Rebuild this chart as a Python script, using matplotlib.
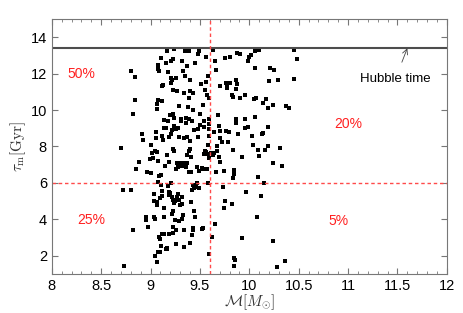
import numpy as np
import matplotlib
matplotlib.use('Agg')
import matplotlib.pyplot as plt
from matplotlib.ticker import MultipleLocator

plt.rcParams['font.family'] = ['Liberation Sans', 'DejaVu Sans']
plt.rcParams['mathtext.fontset'] = 'cm'

# galaxy mass (log M_sun) and formation time tau_m (Gyr)
mass = [
    8.70, 8.72, 8.80, 8.82, 8.73, 8.80, 8.84, 8.84, 8.82, 8.85, 8.88, 8.91, 8.92,
    8.95, 8.95, 8.97, 8.96, 9.00, 8.99, 9.00, 9.01, 9.02, 9.03, 9.03, 9.04, 9.06,
    9.03, 9.04,
    9.07, 9.08, 9.09, 9.11, 9.06, 9.06, 9.07, 9.12, 9.05, 9.05, 9.04, 9.06, 9.08,
    9.08, 9.09, 9.11, 9.11, 9.12, 9.10, 9.12, 9.06, 9.06, 9.14, 9.14, 9.09, 9.10,
    9.11, 9.08, 9.10, 9.12, 9.14, 9.16, 9.17, 9.13, 9.12, 9.14, 9.14, 9.13, 9.12,
    9.16, 9.18, 9.17, 9.21, 9.23, 9.21, 9.22, 9.21, 9.23, 9.27, 9.26, 9.29, 9.23,
    9.24, 9.20, 9.18, 9.16, 9.21, 9.24, 9.28, 9.26, 9.22, 9.19, 9.29, 9.23, 9.24,
    9.17, 9.15, 9.19, 9.27, 9.29, 9.28, 9.26, 9.21, 9.18, 9.20, 9.22, 9.19, 9.19,
    9.23, 9.24, 9.25, 9.27, 9.28, 9.29, 9.32, 9.32, 9.30, 9.23, 9.22, 9.25, 9.29,
    9.32, 9.33, 9.26, 9.23, 9.19, 9.17, 9.26, 9.23, 9.24,
    9.35, 9.39, 9.32, 9.45, 9.37, 9.33, 9.35, 9.40, 9.43, 9.40, 9.34, 9.39, 9.38,
    9.43, 9.36, 9.39, 9.36, 9.31, 9.31, 9.42, 9.44, 9.48, 9.34, 9.37, 9.40, 9.40,
    9.39, 9.37, 9.41, 9.33, 9.32, 9.37, 9.36, 9.39, 9.41, 9.47, 9.49, 9.52, 9.53,
    9.43, 9.44, 9.46, 9.47, 9.49, 9.42, 9.41, 9.44, 9.45, 9.43, 9.43, 9.42, 9.34,
    9.40, 9.34, 9.52, 9.53,
    9.49, 9.48, 9.56, 9.58, 9.51, 9.56, 9.55, 9.57, 9.59, 9.53, 9.50, 9.54, 9.50,
    9.59, 9.59, 9.48, 9.59, 9.58, 9.55, 9.54, 9.56, 9.58, 9.59, 9.61, 9.54, 9.59,
    9.58, 9.57, 9.59,
    9.63, 9.65, 9.66, 9.75, 9.70, 9.80, 9.88, 9.91, 9.80, 9.86, 9.88, 9.76, 9.77,
    9.77, 9.82, 9.83, 9.87, 9.91, 9.96, 9.68, 9.69, 9.64, 9.70, 9.76, 9.79, 9.70,
    9.72, 9.78, 9.67, 9.67, 9.64, 9.63, 9.69, 9.70, 9.66, 9.74, 9.83, 9.84, 9.84,
    9.83, 9.87, 9.87, 9.96, 9.89, 9.96, 10.03, 9.99, 9.93, 9.73, 9.75, 9.74, 9.82,
    9.65, 9.62, 9.93, 9.97, 9.84, 9.85, 9.84,
    10.02, 10.00, 9.99, 10.06, 10.10, 10.06, 10.21, 10.25, 10.20, 10.29, 10.45,
    10.45, 10.48, 10.05, 10.07, 10.17, 10.24, 10.19, 10.14, 10.37, 10.40, 10.06,
    10.19, 10.14, 10.04, 10.09, 10.10, 10.19, 10.16, 10.13, 10.31, 10.33, 10.24,
    10.09, 10.15, 10.12, 10.08, 10.24, 10.28, 10.36,
]
tau = [
    7.93, 5.61, 5.61, 3.42, 1.42, 12.16, 11.83, 10.53, 9.81, 6.76, 7.16, 8.71, 8.35,
    4.11, 3.97, 3.60, 6.60, 6.52, 7.31, 8.07, 7.62, 7.38, 5.41, 5.03, 1.96, 1.67,
    4.10, 4.01,
    12.50, 12.27, 12.14, 12.87, 10.32, 10.04, 10.57, 10.50, 8.82, 8.49, 7.76, 7.69, 7.20,
    6.07, 6.39, 6.43, 5.88, 5.57, 5.15, 5.28, 4.79, 4.95, 4.61, 4.11, 3.00, 2.91,
    2.51, 2.18, 2.18, 3.19, 3.17, 2.38, 2.44, 8.35, 8.58, 9.04, 9.44, 11.39, 11.30,
    12.60, 12.12, 13.23, 12.69, 12.78, 11.76, 11.63, 11.50, 11.12, 11.05, 11.76, 10.24, 9.81,
    9.59, 9.75, 9.40, 9.04, 8.71, 9.13, 9.04, 8.98, 8.93, 8.53, 8.53, 7.85, 7.74,
    7.53, 6.94, 7.12, 7.07, 7.11, 6.89, 6.78, 5.98, 5.83, 5.43, 5.25, 5.34, 5.52,
    5.06, 4.92, 5.01, 5.21, 5.39, 5.06, 5.25, 4.84, 4.79, 4.48, 4.30, 3.97, 3.93,
    4.01, 4.24, 3.42, 3.24, 3.20, 2.36, 2.64, 3.55, 13.33,
    13.27, 13.22, 12.72, 12.60, 12.43, 12.14, 11.88, 11.67, 10.94, 11.06, 10.95, 10.68, 10.17,
    9.99, 9.55, 9.50, 9.29, 9.53, 9.40, 9.40, 8.93, 8.95, 8.49, 8.51, 8.29, 7.85,
    7.76, 7.53, 7.40, 7.07, 6.94, 7.07, 6.89, 6.60, 6.60, 6.89, 6.67, 6.83, 6.74,
    5.88, 5.70, 5.79, 6.01, 5.70, 5.61, 4.97, 4.48, 4.11, 3.51, 3.42, 3.13, 3.42,
    2.69, 2.46, 3.46, 3.51,
    13.27, 13.09, 12.94, 11.90, 11.45, 11.54, 11.08, 10.81, 10.68, 10.26, 9.81, 9.40, 9.20,
    9.22, 9.53, 8.53, 8.57, 8.07, 7.74, 7.58, 7.71, 7.58, 7.34, 7.62, 9.08, 8.98,
    6.01, 6.74, 2.11,
    13.31, 12.67, 12.23, 12.85, 11.32, 12.94, 13.14, 13.09, 11.50, 11.63, 11.45, 11.48, 11.30,
    11.19, 10.81, 10.72, 11.17, 10.68, 10.81, 9.71, 9.11, 8.80, 8.84, 8.84, 8.77, 8.49,
    8.26, 8.26, 8.05, 7.76, 7.62, 7.51, 7.43, 7.16, 6.60, 6.67, 7.80, 6.70, 6.47,
    6.25, 9.53, 9.29, 9.53, 8.71, 9.02, 8.57, 9.08, 7.43, 5.79, 5.01, 4.61, 4.83,
    3.73, 3.00, 2.97, 5.52, 1.85, 1.78, 1.42,
    13.05, 12.91, 12.72, 13.27, 13.31, 12.29, 12.32, 12.18, 11.59, 11.68, 11.70,
    13.31, 12.80, 10.59, 10.68, 10.61, 10.26, 10.13, 10.41, 10.21, 10.10, 9.62,
    9.08, 8.75, 8.07, 7.80, 7.49, 8.04, 7.80, 8.67, 7.93, 6.91, 7.07,
    6.34, 6.01, 5.28, 4.10, 2.78, 1.36, 1.69,
]

hubble_time = 13.4
mass_cut = 9.6
tau_cut = 6.0
quad_labels = ['50%', '20%', '25%', '5%']
quad_pos = [(8.3, 12.0), (11.0, 9.25), (8.4, 3.95), (10.9, 3.9)]

fig = plt.figure(figsize=(4.63, 3.13), dpi=100)
ax = fig.add_axes([0.112, 0.125, 0.853, 0.814])

ax.plot(mass, tau, 's', color='black', markersize=2.7, markeredgewidth=0)

ax.axhline(hubble_time, color='#4d4d4d', lw=1.5)
ax.axvline(mass_cut, color='#ff4a4a', lw=1.0, ls=(0, (2.5, 2)))
ax.axhline(tau_cut, color='#ff4a4a', lw=1.0, ls=(0, (2.5, 2)))

for lab, (x, y) in zip(quad_labels, quad_pos):
    ax.text(x, y, lab, color='#ff2020', fontsize=10, ha='center', va='center')

ax.annotate('Hubble time', xy=(11.6, 13.4), xytext=(11.48, 11.72),
            ha='center', va='center', fontsize=9.5,
            arrowprops=dict(arrowstyle='->', color='#444444', lw=0.6,
                            shrinkA=6, shrinkB=0))

ax.set_xlim(8, 12)
ax.set_ylim(1, 15)
ax.set_xticks(np.arange(8, 12.01, 0.5))
ax.set_xticklabels(['8', '8.5', '9', '9.5', '10', '10.5', '11', '11.5', '12'])
ax.set_yticks([2, 4, 6, 8, 10, 12, 14])
ax.xaxis.set_minor_locator(MultipleLocator(0.1))
ax.tick_params(which='both', direction='in', top=True, right=True,
               labelsize=10.5, color='#777777')
ax.tick_params(which='major', length=4)
ax.tick_params(which='minor', length=2)
for s in ax.spines.values():
    s.set_color('#777777')

ax.set_xlabel(r'$\mathcal{M}[M_{\odot}]$', fontsize=11, labelpad=0, color='#333333')
ax.set_ylabel(r'$\tau_{\rm m}[{\rm Gyr}]$', fontsize=11, labelpad=2, color='#333333')

fig.savefig('out.png', dpi=100)
